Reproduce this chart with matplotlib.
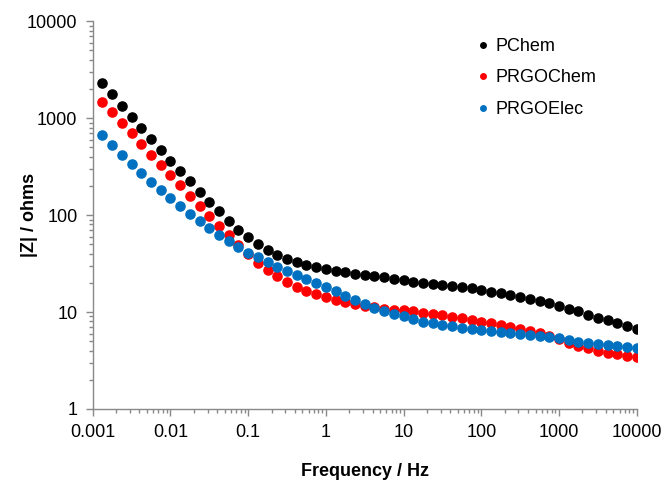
import numpy as np
import matplotlib
matplotlib.use("Agg")
import matplotlib.pyplot as plt
from matplotlib.ticker import LogLocator, FixedLocator, FixedFormatter, NullFormatter

plt.rcParams['font.family'] = ['Liberation Sans', 'DejaVu Sans']

# Frequencies: 8 points per decade, 0.00133 Hz .. 10000 Hz
exponents = [-2.875 + 0.125 * k for k in range(56)]
freq = [10 ** e for e in exponents]

pchem = [2320, 1763, 1346, 1038, 794, 607, 468, 363, 285, 223, 173, 137, 109, 87, 71, 59,
         50, 44, 39, 35.5, 32.7, 30.8, 29.1, 27.7, 26.4, 25.6, 24.8, 24.0, 23.3, 22.8, 22.1, 21.4,
         20.6, 20.1, 19.6, 19.0, 18.7, 18.1, 17.6, 16.9, 16.2, 15.7, 15.1, 14.4, 13.7, 13.1, 12.4, 11.6,
         10.8, 10.2, 9.42, 8.77, 8.22, 7.66, 7.19, 6.76]
prgochem = [1480, 1151, 894, 700, 540, 419, 328, 259, 202, 159, 125, 98, 77, 62, 49, 40,
            32.0, 27.3, 23.3, 20.6, 18.3, 16.6, 15.3, 14.2, 13.4, 12.7, 12.1, 11.5, 11.2, 10.8, 10.6, 10.4,
            10.2, 9.87, 9.55, 9.26, 8.98, 8.63, 8.28, 7.97, 7.66, 7.36, 7.02, 6.69, 6.34, 6.04, 5.72, 5.25,
            4.74, 4.45, 4.21, 3.97, 3.79, 3.68, 3.53, 3.43]
prgoelec = [673, 531, 419, 333, 269, 221, 181, 150, 124, 102, 86, 73, 62, 54, 47, 41,
            36.8, 32.7, 29.1, 26.2, 23.9, 21.7, 19.8, 18.0, 16.3, 14.8, 13.4, 12.1, 11.1, 10.3, 9.55, 9.0,
            8.43, 7.97, 7.66, 7.36, 7.13, 6.92, 6.69, 6.49, 6.34, 6.19, 6.04, 5.90, 5.77, 5.64, 5.50, 5.35,
            5.12, 4.92, 4.74, 4.63, 4.52, 4.45, 4.37, 4.27]

series_names = ["PChem", "PRGOChem", "PRGOElec"]
series_colors = ["#000000", "#FF0000", "#0070C0"]

x_ticks = [0.001, 0.01, 0.1, 1, 10, 100, 1000, 10000]
x_ticklabels = ["0.001", "0.01", "0.1", "1", "10", "100", "1000", "10000"]
y_ticks = [1, 10, 100, 1000, 10000]
y_ticklabels = ["1", "10", "100", "1000", "10000"]

fig = plt.figure(figsize=(6.64, 4.82), dpi=100)
ax = fig.add_axes([0.1396, 0.1515, 0.8194, 0.8045])

for vals, name, col in zip([pchem, prgochem, prgoelec], series_names, series_colors):
    ax.plot(freq, vals, linestyle='none', marker='o', markersize=6.6,
            markerfacecolor=col, markeredgecolor=col, label=name)

ax.set_xscale('log')
ax.set_yscale('log')
ax.set_xlim(0.001, 10000)
ax.set_ylim(1, 10000)

ax.xaxis.set_major_locator(FixedLocator(x_ticks))
ax.xaxis.set_major_formatter(FixedFormatter(x_ticklabels))
ax.yaxis.set_major_locator(FixedLocator(y_ticks))
ax.yaxis.set_major_formatter(FixedFormatter(y_ticklabels))
ax.xaxis.set_minor_locator(LogLocator(base=10, subs=np.arange(2, 10), numticks=20))
ax.yaxis.set_minor_locator(LogLocator(base=10, subs=np.arange(2, 10), numticks=20))
ax.xaxis.set_minor_formatter(NullFormatter())
ax.yaxis.set_minor_formatter(NullFormatter())

gray = "#898989"
for s in ['top', 'right']:
    ax.spines[s].set_visible(False)
for s in ['left', 'bottom']:
    ax.spines[s].set_color(gray)
    ax.spines[s].set_linewidth(1.0)

ax.tick_params(axis='both', which='major', direction='out', length=5, width=1, color=gray,
               labelsize=13, labelcolor='black', pad=6)
ax.tick_params(axis='both', which='minor', direction='out', length=3, width=1, color=gray)

ax.set_xlabel("Frequency / Hz", fontsize=13, fontweight='bold')
ax.set_ylabel("|Z| / ohms", fontsize=13, fontweight='bold')
ax.xaxis.set_label_coords(0.5, -0.14)
ax.yaxis.set_label_coords(-0.1, 0.5)

leg = ax.legend(loc='upper left', bbox_to_anchor=(0.695, 0.955), bbox_transform=fig.transFigure,
                frameon=False, fontsize=13, markerscale=0.6, handlelength=0.6,
                handletextpad=0.4, labelspacing=0.8)

fig.savefig("out.png", dpi=100)
